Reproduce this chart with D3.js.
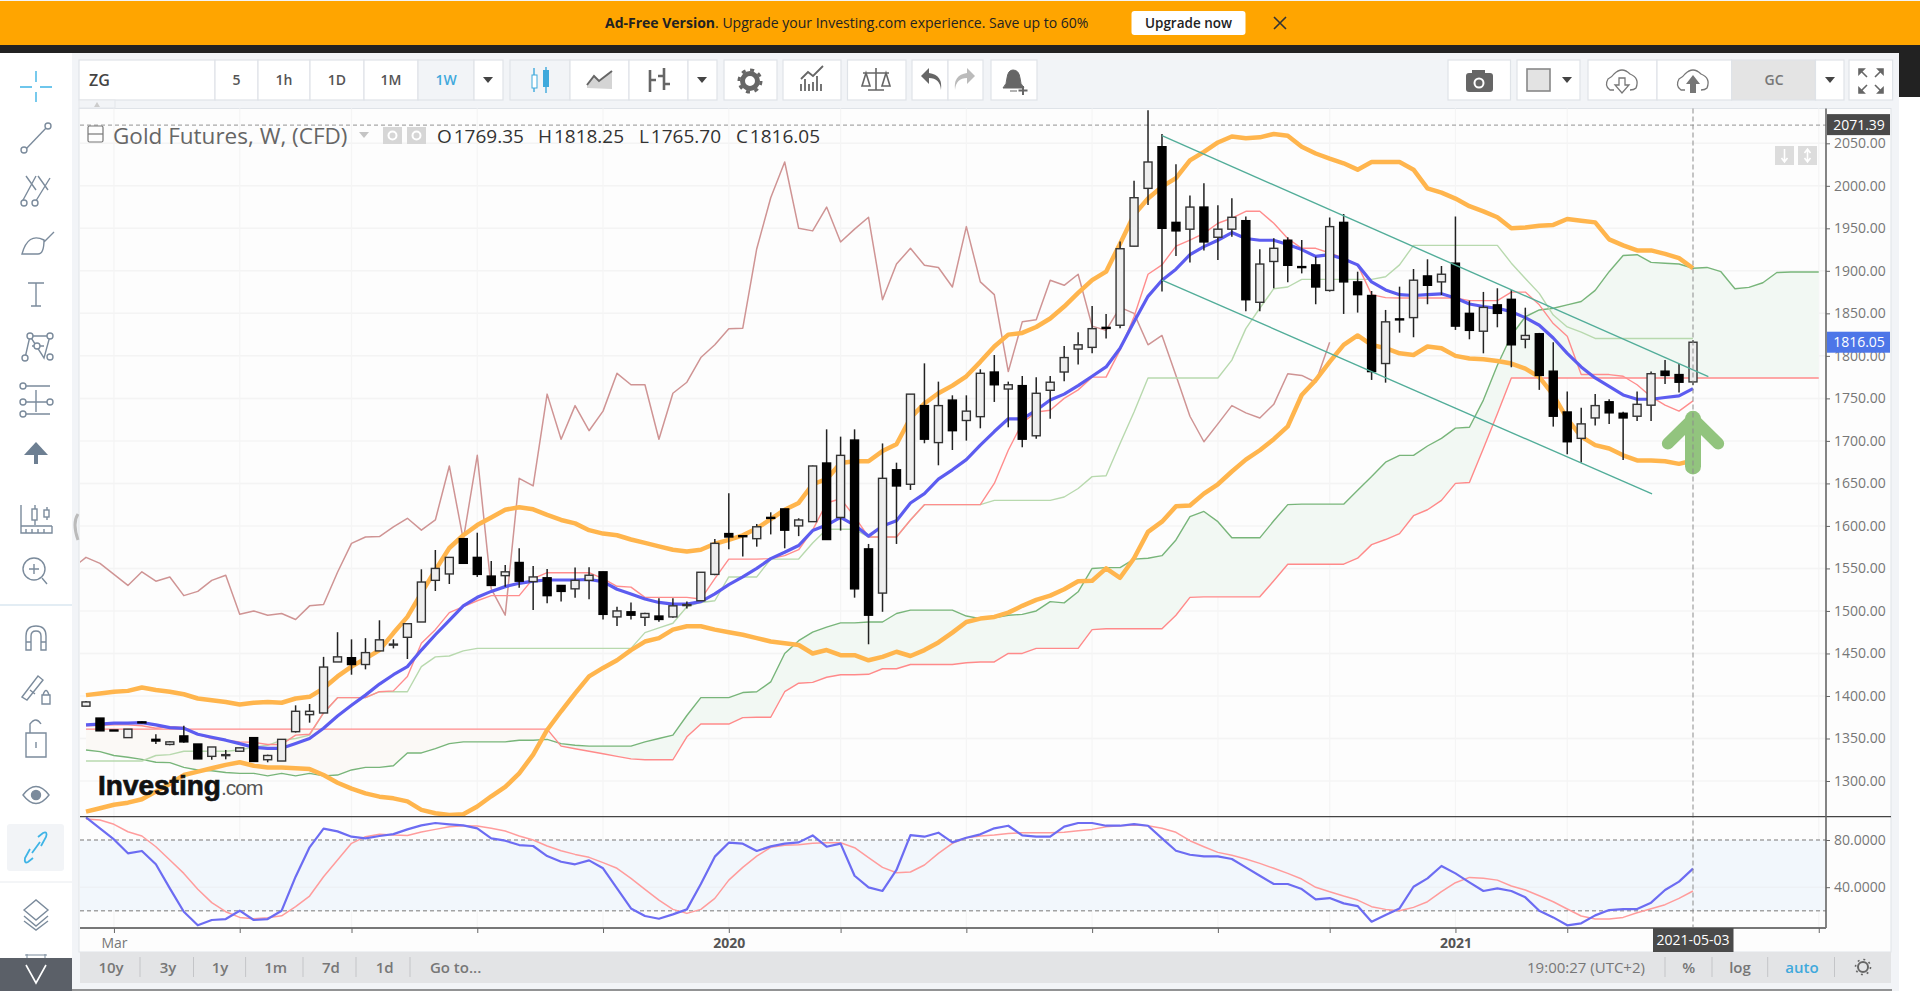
<!DOCTYPE html>
<html>
<head>
<meta charset="utf-8">
<title>Gold Futures, W, (CFD)</title>
<script src="https://cdn.jsdelivr.net/npm/d3@7"></script>
<style>
  html, body { margin: 0; padding: 0; background: #fff; overflow: hidden; }
  svg { display: block; }
  text { font-family: "Open Sans", sans-serif; }
</style>
</head>
<body>
<div id="chart"></div>
<script>
// weekly candles
const open = [1388,1374,1360,1351,1369.5,1349,1343,1353,1343.5,1329,
  1330,1335,1351,1325,1323.5,1358,1378,1380,1440,1445,
  1437,1453,1460,1469,1487,1536,1543.5,1585,1563,1541,
  1541.5,1557,1534.5,1539,1530,1526,1536,1546,1493,1499,
  1492.5,1494,1493,1507,1512,1543,1591,1588.5,1585,1610,
  1620,1600,1605,1674,1610,1701,1573,1521,1666,1649,
  1741.5,1698,1748,1724,1728.5,1781,1761,1765,1706,1759.5,
  1781,1808,1810,1833.5,1836,1929,1997,2046,1957,1949,
  1975,1939.5,1949,1959,1863,1911,1936,1905,1907,1877,
  1957,1887,1871,1791,1843.5,1845,1894,1887,1909,1850,
  1829,1860,1866.5,1819.5,1826,1782,1734,1703,1727,1746,
  1732.5,1729,1742,1782,1778,1769.35];
const high = [1394,1374,1360,1361,1370,1355,1347,1365,1343.5,1340,
  1336.5,1339,1351,1331,1349,1389,1390.6,1446,1475,1466.6,
  1468,1489,1466.6,1485.4,1549,1571.7,1563,1585,1592,1558.7,
  1554,1573.6,1553,1549.3,1530,1551,1551.3,1546,1505,1510,
  1498,1515,1515,1511,1545.5,1584.6,1638.4,1589,1602.3,1616,
  1620,1609,1671,1713.6,1705,1713.6,1578.8,1697,1674.4,1755,
  1791.2,1769.7,1753.6,1753.6,1784.2,1801,1769.7,1776.3,1774.8,1776.3,
  1811.6,1827.7,1858.7,1849.3,1934.4,2006,2089,2061,2025.3,1988.5,
  2003,1977,1985.3,1963.8,1925.3,1938.3,1939.5,1936.3,1916.7,1962.6,
  1966.9,1899,1876.3,1854,1881.4,1902.2,1913.6,1905.7,1964,1865,
  1875.2,1879.5,1877.5,1856.7,1827,1816,1758,1739.1,1755.2,1749,
  1734.4,1758,1781.5,1795.2,1790.5,1818.25];
const low = [1388,1359,1359,1351,1368,1343.5,1342,1345,1326,1325,
  1325.5,1335,1323,1322,1323.5,1357,1368.6,1380,1440,1425,
  1431.3,1453,1456,1443.5,1487,1523.5,1531.7,1556,1540,1530,
  1528.6,1527.4,1501,1509,1511,1515.6,1513.7,1490,1482.3,1490,
  1482.3,1487.4,1492,1503,1511.7,1542,1572.5,1563.9,1575.6,1590,
  1573.7,1588,1605,1584,1594.5,1515.6,1460.8,1499,1578.8,1642.3,
  1697.2,1671.3,1689.3,1700.3,1714.8,1745.8,1716,1692.5,1702.6,1726,
  1770,1789.7,1803,1820.3,1832.4,1929,1977.5,1875.6,1917.5,1909.7,
  1923.8,1912.8,1940.2,1852.4,1852.4,1879.5,1886.5,1897,1860.7,1875.6,
  1849.3,1850.9,1771.7,1768.5,1827.3,1821.9,1860.7,1871.6,1830.5,1819.5,
  1803,1833.6,1786.6,1808.9,1760,1716.8,1684.3,1674.5,1718,1719.9,
  1677.6,1723.5,1723.5,1767,1756.8,1765.7];
const close = [1393,1359,1359,1361,1368.5,1347,1346,1346,1326,1340,
  1331,1339,1323,1330,1349,1382,1382,1434,1446,1437,
  1451,1466,1461,1485,1534,1550,1563,1556,1543,1530,
  1546,1535,1540,1518,1523,1536,1542,1496,1500,1495,
  1497,1490,1506,1507.5,1545.5,1579.5,1587,1587.5,1599,1609,
  1595,1607,1670.5,1584,1683,1526,1495,1656,1647,1755,
  1702,1741.5,1712,1735,1779.5,1766,1766,1702,1756,1769,
  1798,1813,1832,1832.5,1926,1986,2028,1950,1947,1975,
  1934,1949,1963,1866,1908,1926.5,1906.5,1904,1881,1952,
  1887,1872,1781.5,1840,1842.5,1889,1883,1896,1835,1830,
  1857,1850,1813,1824,1777,1729,1699,1720,1741.5,1733,
  1727,1743,1779,1777,1769,1816.05];

// overlays
const bbUpper = [1401,1403,1405,1406,1410,1407,1405,1402,1397,1395,
  1393,1390,1392,1393,1392,1397,1399,1409,1423,1434.5,
  1444,1454,1474,1493,1521,1548,1574,1589,1601,1610,
  1619,1622,1619.5,1613,1607,1603,1595,1591,1589,1584,
  1580,1576,1572,1570,1572,1579,1583.5,1589,1597,1608,
  1619,1627,1649,1655,1674,1676,1676,1688,1696,1727,
  1744,1756,1765,1776,1793,1811,1825,1827,1834,1844,
  1858,1874,1889,1899,1932,1966,1985,1999,2009,2030,
  2040,2051,2058,2056,2057,2061,2059,2046,2038,2032,
  2026.5,2019,2028,2028,2028,2019,1997,1992,1985,1976,
  1970,1963,1950,1951,1953,1954,1961,1959,1957,1937,
  1930,1924,1924,1920,1915,1903];
const bbLower = [1264,1268,1272,1274.5,1278.5,1287.5,1296.5,1307,1311,1315,
  1319,1322,1318,1316,1316,1315,1314,1307,1298,1291,
  1285.5,1281.6,1279.6,1276,1266,1262,1260,1261,1270,1282,
  1293,1309,1331,1360,1382,1403,1423,1433,1442,1454,
  1464,1468,1478,1482,1482,1478,1475,1472,1468,1464,
  1462,1460,1450,1454,1448,1448,1442,1446,1452,1447,
  1454,1463,1474.5,1487,1491,1493,1498,1506,1513,1518,
  1525.5,1535,1535.5,1550,1539,1562,1593,1605,1623,1624,
  1638,1649,1664,1678,1689,1702,1717,1754,1771.5,1793,
  1813,1824,1813,1809,1803,1801,1811,1809,1800,1797,
  1796,1794,1791,1785,1775,1754,1726,1705,1695,1691,
  1683,1677,1677,1676,1673,1677];
const ema = [1366,1367,1368,1368,1368.6,1366,1362.7,1362,1355,1351.4,
  1348,1344,1339.6,1338.4,1338.4,1344,1350,1362,1376.5,1389,
  1401,1414,1425,1434.5,1454,1472,1489,1506,1516,1523,
  1528.6,1532.5,1535,1536.4,1536.4,1536.4,1537,1534.5,1525.5,1520,
  1514,1510,1508,1508,1511,1520,1531,1540,1550,1561.5,
  1569,1577,1594.5,1601,1610,1601,1588,1600,1606,1627,
  1638,1655,1666,1678,1695,1711,1726,1726,1736,1748,
  1755,1765,1776,1787,1809,1840,1870,1889,1902,1919,
  1928.5,1936,1945,1938,1936,1936,1931,1925,1917,1919,
  1914,1907,1887,1877.5,1872,1871,1872,1873,1868,1861,
  1858,1856,1852,1845,1836,1821,1803,1787,1774,1764,
  1754,1749,1749,1751,1753,1761.5];
const tenkan = [1365,1365.5,1366,1366,1365,1362,1364,1363,1355,1350,
  1348,1346,1345.5,1343,1343,1354,1355,1380,1398,1398,
  1398,1405,1406,1423,1462,1478,1498,1505,1512,1518,
  1518,1518,1538,1545,1545,1545,1545,1538,1529,1528,
  1516,1516,1516,1516,1514,1538,1561,1561,1561,1561.5,
  1565,1572,1595,1627,1632,1611,1587,1587,1587,1607,
  1625,1625,1625,1625,1625,1650,1689,1721,1734,1736,
  1750,1760,1775,1775,1807,1846,1896,1907,1929,1936,
  1944,1956,1962,1970,1970,1956,1938,1926.5,1926.5,1921,
  1915,1907,1872,1868.5,1868,1868,1868,1868,1868,1865,
  1865,1865,1875,1875,1860,1838,1823,1778,1778,1778,
  1776,1766,1752,1742,1735,1747];
const kijun = [1323.5,1323.5,1323.5,1323.5,1323.5,1330,1331,1335,1335,1335,
  1335,1336.5,1340,1342,1348,1350,1354,1380,1398,1398,
  1398,1405,1405,1405,1434.5,1446,1447,1453,1456,1456,
  1456,1456,1456,1456,1456,1456,1456,1456,1456,1456,
  1474.5,1480,1485.5,1505,1510,1512,1540,1540,1540,1561,
  1561,1561,1580,1596,1596,1596,1587,1587,1587,1607,
  1625,1625,1625,1625,1625,1630,1630,1630,1630,1630,
  1634,1644,1658,1659,1697,1734,1774,1774,1774,1774,
  1774,1774,1795,1832,1856,1879,1881,1890,1890,1890,
  1890,1890,1890,1893,1907,1930,1930,1930,1930,1930,
  1930,1930,1909,1891,1873.5,1848,1834,1828,1820.5,1820.5,
  1820.5,1820.5,1820.5,1820.5,1820.5,1820.5];
const senkouA = [1336.5,1334.5,1330,1328,1325.5,1322,1321.6,1316,1313,1312,
  1310,1309,1309,1306,1309,1306,1309,1306,1307,1313,
  1316,1316,1318,1333,1333,1338,1344,1346,1346,1346,
  1346,1348,1348,1349,1344,1342,1341,1341,1341,1341,
  1346,1350,1354,1377,1398,1398,1398,1404,1405,1416.5,
  1450,1465,1475,1481,1486,1486,1487,1487,1497,1501,
  1501,1501,1501,1494,1491,1492,1495,1496,1500,1511,
  1509.5,1522.5,1550,1551,1551,1561,1562,1565,1583.5,1611,
  1617,1605,1586,1586,1586,1606,1625,1625.6,1625.6,1625.6,
  1625.6,1642,1658,1675,1683,1683,1694,1703,1715,1716,
  1748,1789,1824,1846,1854,1856,1860,1864,1877,1899,
  1918,1919,1910,1909,1908,1903,1904,1899,1879,1880.5,
  1886,1898,1898.6,1898.6,1898.6];
const senkouB = [1361,1361,1361,1361,1361,1361,1361,1361,1361,1361,
  1361,1361,1361,1361,1361,1361,1361,1361,1361,1361,
  1361,1361,1361,1361,1361,1361,1361,1361,1361,1361,
  1361,1361,1361,1361,1341,1338,1335,1332,1329,1326,
  1325,1325,1325,1352,1367,1367,1367,1374.5,1375,1375,
  1405,1415,1416,1422,1425,1425,1425.5,1432,1432,1437,
  1437,1437,1437,1439,1440,1440,1450,1450,1456,1456,
  1456,1456,1478,1479,1479,1479,1479,1479,1495,1516,
  1516.6,1516.6,1516.6,1516.6,1516.6,1535.5,1555,1555,1555,1555,
  1555,1562,1578,1584,1591,1612,1619,1630,1650,1651,
  1691,1732,1774,1774,1774,1774,1774,1774,1774,1774,
  1774,1774,1774,1774,1774,1774,1774,1774,1774,1774,
  1774,1774,1774,1774,1774];

// stochastic pane
const stochK = [99.2,89.9,80.5,68.7,70.7,59.4,39,19.2,7.7,12.2,
  13,20.1,12.2,13,20.1,48.9,73.8,89.6,87.3,82.8,
  81.4,83.4,85,89,92.4,94.4,93.3,92.4,89.9,81.4,
  79.4,75.7,74.9,66.4,61.6,59.4,62.7,56,39,22,
  15.6,13.3,17,21.2,42.7,65.9,77.7,76.9,70.7,74.6,
  76.9,78,83.9,74.3,76.9,49.7,39.9,36.8,54.6,84.2,
  82.8,86.2,78,81.9,84.8,89.9,92.1,83.9,82.8,82.8,
  91.3,94.4,94.4,92.1,92.1,93.5,92.1,81.4,70.9,67.5,
  66.1,66.1,63.9,56.8,49.7,42.7,42.7,38.4,29.7,30.8,
  26.3,24,10.8,16.4,22,40.4,47.5,58,51.7,44.1,
  36.8,39,36.8,31.4,20.1,14.4,7.7,9.4,16.1,20.6,
  21.5,21.5,26.9,37.6,44.7,55.7];
const stochD = [97.8,96.9,93.3,87,83.4,74.3,63,51.7,38.2,26.9,
  19.2,14.4,13.3,14.2,15.8,23.5,32.5,48.9,63,77.2,
  82.8,84.8,84.2,83.9,86.8,89,91.3,92.1,91.8,89.9,
  87.6,83.4,80,74.9,70.9,67.8,65.3,60.8,56,47.5,
  38.2,29.1,21.2,17.8,21.2,30.5,46,56.8,66.4,73.8,
  75.5,76,77.2,77.7,77.7,73.5,65,56.8,52.3,52.9,
  58.8,68.7,77.2,81.9,83.4,84.2,85.6,86.2,86.2,86.2,
  86.5,87.9,89,91.3,92.1,92.7,92.1,89.9,86.5,79.4,
  74.3,69.5,67,63.9,60.2,56,51.7,46.9,39.9,36.2,
  32.5,29.1,23.5,21.2,20.1,22.9,27.7,36.2,43.8,48.3,
  47.5,46,41,37.6,32.8,27.7,21.5,15.6,13,13,
  14.4,18.4,21.8,25.2,30.5,36.8];

const chikouShift = 26;
const priceTicks = [1300,1350,1400,1450,1500,1550,1600,1650,1700,1750,1800,1850,1900,1950,2000,2050];
const stochTicks = [40,80];
const stochLevels = [20,80];
const monthBars = [2,11,19,28,37,46,54,63,72,81,89,98,106,124];
const monthLabels = {2:'Mar',46:'2020',98:'2021'};
// hand drawn channel and arrow: [bar, price]
const channelTop = [[77,2059],[116.1,1775.5]];
const channelBottom = [[77,1889.2],[112.07,1637.6]];
const arrowShaft = [[115,1726],[115,1670]];
const arrowHead = [[113.2,1697],[115,1726],[116.8,1697]];
const topLine = 2071.39, lastPrice = 1816.05, lastBar = 115;

const WIDTH = 1920, HEIGHT = 991;
const plotLeft = 80, plotRight = 1826, plotTop = 108.5, paneSplit = 816.7, plotBottom = 928, timeBar = 952;

const svg = d3.select('#chart').append('svg').attr('width', WIDTH).attr('height', HEIGHT);

const x = d3.scaleLinear().domain([0, 115]).range([86, 1693]);
const y = d3.scaleLinear().domain([1300, 2050]).range([781, 143.3]);
const yS = d3.scaleLinear().domain([20, 80]).range([910.8, 840]);

svg.append('defs').append('clipPath').attr('id', 'main-clip').append('rect')
  .attr('x', plotLeft).attr('y', plotTop).attr('width', plotRight - plotLeft).attr('height', paneSplit - plotTop);

function line(values, yScale, start) {
  return d3.line().x((d, i) => x(i + (start || 0))).y(d => yScale(d))(values);
}
function strokeLine(g, d, color, w) {
  return g.append('path').attr('d', d).attr('fill', 'none').attr('stroke', color)
    .attr('stroke-width', w).attr('stroke-linejoin', 'round');
}

// page background
svg.append('rect').attr('width', WIDTH).attr('height', HEIGHT).attr('fill', '#f2f4f7');
svg.append('rect').attr('x', 1899).attr('y', 97).attr('width', 21).attr('height', HEIGHT).attr('fill', '#fff');
svg.append('rect').attr('x', 0).attr('y', 53).attr('width', 72).attr('height', HEIGHT).attr('fill', '#fff');

// chart background
svg.append('rect').attr('x', plotLeft - 1).attr('y', plotTop).attr('width', 1892 - plotLeft).attr('height', timeBar - plotTop)
  .attr('fill', '#fdfdfd').attr('stroke', '#dfe3e8');

// grid
const grid = svg.append('g');
grid.selectAll('.gy').data(priceTicks).join('line')
  .attr('x1', plotLeft).attr('x2', plotRight).attr('y1', d => y(d)).attr('y2', d => y(d))
  .attr('stroke', '#f4f4f4').attr('stroke-width', 1.5);
grid.selectAll('.gx').data(monthBars).join('line')
  .attr('x1', d => x(d)).attr('x2', d => x(d)).attr('y1', plotTop).attr('y2', plotBottom)
  .attr('stroke', '#f5f5f5').attr('stroke-width', 1.2);

// stochastic band
const stochPane = svg.append('g');
stochPane.append('rect').attr('x', plotLeft).attr('width', plotRight - plotLeft)
  .attr('y', yS(80)).attr('height', yS(20) - yS(80)).attr('fill', '#f2f7fc');
stochPane.append('line').attr('x1', plotLeft).attr('x2', plotRight).attr('y1', yS(40)).attr('y2', yS(40))
  .attr('stroke', '#eef1f5').attr('stroke-width', 1.5);
stochPane.selectAll('.lvl').data(stochLevels).join('line')
  .attr('x1', plotLeft).attr('x2', plotRight).attr('y1', d => yS(d)).attr('y2', d => yS(d))
  .attr('stroke', '#a3a3a3').attr('stroke-width', 1.5).attr('stroke-dasharray', '4 3');
strokeLine(stochPane, line(stochD, yS), '#ff9c9c', 1.5);
strokeLine(stochPane, line(stochK, yS), '#6c6cf2', 2.2);

// main pane
const main = svg.append('g').attr('clip-path', 'url(#main-clip)');
const cloudIdx = d3.range(senkouA.length);
const cloud = d3.area().x(i => x(i)).y0(i => y(senkouB[i]));
main.append('path').datum(cloudIdx).attr('fill', '#fbf9f6')
  .attr('d', cloud.y1(i => y(Math.min(senkouA[i], senkouB[i]))));
main.append('path').datum(cloudIdx).attr('fill', '#f2f8f3')
  .attr('d', cloud.y1(i => y(Math.max(senkouA[i], senkouB[i]))));

main.append('line').attr('x1', plotLeft).attr('x2', plotRight).attr('y1', y(topLine)).attr('y2', y(topLine))
  .attr('stroke', '#a8a8a8').attr('stroke-width', 1.2).attr('stroke-dasharray', '4 3');

strokeLine(main, line(senkouA, y), '#78b57a', 1.4);
strokeLine(main, line(senkouB, y), '#ff8a8a', 1.4);
strokeLine(main, line(close.slice(chikouShift - 1), y, -1), '#cf9494', 1.5);
strokeLine(main, line(kijun, y), '#b8d9ae', 1.4);
strokeLine(main, line(tenkan, y), '#ff8d8d', 1.4);
strokeLine(main, line(bbUpper, y), '#ffb54d', 4.5);
strokeLine(main, line(bbLower, y), '#ffb54d', 4.5);
strokeLine(main, line(ema, y), '#5c5cf0', 3.2);

// candles
const bars = main.append('g').selectAll('g').data(d3.range(open.length)).join('g');
bars.append('line')
  .attr('x1', i => x(i)).attr('x2', i => x(i)).attr('y1', i => y(high[i])).attr('y2', i => y(low[i]))
  .attr('stroke', '#222').attr('stroke-width', 1.5);
bars.append('rect')
  .attr('x', i => x(i) - 4).attr('width', 8)
  .attr('y', i => y(Math.max(open[i], close[i])))
  .attr('height', i => Math.max(1, Math.abs(y(open[i]) - y(close[i]))))
  .attr('fill', i => close[i] >= open[i] ? '#eeeeee' : '#000')
  .attr('stroke', i => close[i] >= open[i] ? '#333' : '#000').attr('stroke-width', 1.4);

// channel
[channelTop, channelBottom].forEach(c => {
  strokeLine(main, d3.line().x(d => x(d[0])).y(d => y(d[1]))(c), '#52ad99', 1.4);
});

// arrow
[arrowShaft, arrowHead].forEach((a, k) => {
  strokeLine(main, d3.line().x(d => x(d[0])).y(d => y(d[1]))(a), '#92c47e', k ? 12 : 16)
    .attr('stroke-linecap', 'round');
});

// watermark
const mark = svg.append('text').attr('x', 98).attr('y', 795);
mark.append('tspan').text('Investing').attr('font-weight', 700)
  .attr('font-size', 28).attr('fill', '#111').attr('stroke', '#111').attr('stroke-width', 0.7).style('font-family', 'Liberation Sans');
mark.append('tspan').text('.com').attr('font-size', 21).attr('fill', '#555').attr('letter-spacing', -1)
  .style('font-family', 'Liberation Sans');

// crosshair
svg.append('line').attr('x1', x(lastBar)).attr('x2', x(lastBar)).attr('y1', plotTop).attr('y2', plotBottom)
  .attr('stroke', '#8b8b8b').attr('stroke-width', 1).attr('stroke-dasharray', '5 3');

// separators + axes
svg.append('line').attr('x1', plotLeft).attr('x2', 1891).attr('y1', paneSplit).attr('y2', paneSplit)
  .attr('stroke', '#444').attr('stroke-width', 1.3);
svg.append('line').attr('x1', plotRight).attr('x2', plotRight).attr('y1', plotTop).attr('y2', plotBottom)
  .attr('stroke', '#666').attr('stroke-width', 1.6);
svg.append('line').attr('x1', plotLeft).attr('x2', plotRight).attr('y1', plotBottom).attr('y2', plotBottom)
  .attr('stroke', '#777').attr('stroke-width', 2);

function styleAxis(g) {
  g.select('.domain').remove();
  g.selectAll('line').attr('stroke', '#666');
  g.selectAll('text').attr('fill', '#777').attr('font-size', 14).style('font-family', '"Open Sans", sans-serif');
}
svg.append('g').attr('transform', `translate(${plotRight},0)`)
  .call(d3.axisRight(y).tickValues(priceTicks).tickFormat(d3.format('.2f')).tickSize(4).tickPadding(4))
  .call(styleAxis);
svg.append('g').attr('transform', `translate(${plotRight},0)`)
  .call(d3.axisRight(yS).tickValues(stochTicks).tickFormat(d3.format('.4f')).tickSize(4).tickPadding(4))
  .call(styleAxis);
svg.append('g').attr('transform', `translate(0,${plotBottom})`)
  .call(d3.axisBottom(x).tickValues(monthBars).tickFormat(d => monthLabels[d] || '').tickSize(5).tickPadding(4))
  .call(styleAxis)
  .call(g => g.selectAll('text').attr('dy', '0.75em').attr('fill', d => d === 2 ? '#777' : '#555')
    .attr('font-weight', d => d === 2 ? 400 : 700));

// price + date tags
function tag(px, py, w, h, fill, label, cx) {
  svg.append('rect').attr('x', px).attr('y', py).attr('width', w).attr('height', h).attr('fill', fill);
  svg.append('text').attr('x', cx).attr('y', py + h / 2 + 5).attr('fill', '#fff').attr('font-size', 14)
    .attr('text-anchor', 'middle').text(label);
}
tag(1827, y(topLine) - 11, 63, 21, '#4a4a4a', d3.format('.2f')(topLine), 1859);
tag(1827, y(lastPrice) - 10.5, 63, 21, '#4d76e8', d3.format('.2f')(lastPrice), 1859);
tag(1653, plotBottom, 80.5, 24, '#4a4a4a', '2021-05-03', 1693);

// legend
const legend = svg.append('g');
legend.append('rect').attr('x', 88).attr('y', 126).attr('width', 15).attr('height', 16).attr('rx', 1.5)
  .attr('fill', 'none').attr('stroke', '#777').attr('stroke-width', 1.2);
legend.append('line').attr('x1', 88).attr('x2', 103).attr('y1', 134).attr('y2', 134).attr('stroke', '#777').attr('stroke-width', 1.2);
legend.append('text').attr('x', 113).attr('y', 144).attr('font-size', 22.5).attr('fill', '#666').text('Gold Futures, W, (CFD)');
legend.append('path').attr('d', 'M359 132 h10 l-5 6 z').attr('fill', '#c4c4c4');
[383, 407].forEach(px => {
  legend.append('rect').attr('x', px).attr('y', 127).attr('width', 19).attr('height', 17).attr('fill', '#d6d6d6');
  legend.append('circle').attr('cx', px + 9.5).attr('cy', 135.5).attr('r', 4).attr('fill', 'none').attr('stroke', '#fff').attr('stroke-width', 2);
});
const ohlcLabels = [['O', open[lastBar], 437], ['H', high[lastBar], 538], ['L', low[lastBar], 639], ['C', close[lastBar], 736]];
ohlcLabels.forEach(o => {
  legend.append('text').attr('x', o[2]).attr('y', 143).attr('font-size', 19).attr('fill', '#333').text(o[0] + '\u200a' + d3.format('.2f')(o[1]));
});

// scroll arrows at the top right of the chart
[1775, 1798].forEach((px, k) => {
  svg.append('rect').attr('x', px).attr('y', 146).attr('width', 19).attr('height', 19).attr('fill', '#dcdcdc');
  svg.append('path').attr('d', k ? `M${px + 9.5} 149 v13 M${px + 6.5} 153 l3 -4 l3 4 M${px + 6.5} 158 l3 4 l3 -4` : `M${px + 9.5} 149 v13 M${px + 6.5} 158 l3 4 l3 -4`)
    .attr('stroke', '#fff').attr('stroke-width', 1.6).attr('fill', 'none');
});

// ---- page chrome ----
svg.append('rect').attr('x', 0).attr('y', 1).attr('width', WIDTH).attr('height', 44).attr('fill', '#ffa500');
svg.append('rect').attr('x', 0).attr('y', 45).attr('width', WIDTH).attr('height', 8).attr('fill', '#222');
svg.append('rect').attr('x', 1899).attr('y', 45).attr('width', 21).attr('height', 52).attr('fill', '#222');
const ad = svg.append('text').attr('x', 605).attr('y', 28).attr('font-size', 14).attr('fill', '#222');
ad.append('tspan').text('Ad-Free Version').attr('font-weight', 700);
ad.append('tspan').text('. Upgrade your Investing.com experience. Save up to 60%');
svg.append('rect').attr('x', 1131.5).attr('y', 11).attr('width', 114).attr('height', 24).attr('rx', 3).attr('fill', '#fff');
svg.append('text').attr('x', 1188.5).attr('y', 28).attr('text-anchor', 'middle').attr('font-size', 13.5).attr('font-weight', 600).attr('fill', '#222').text('Upgrade now');
svg.append('path').attr('d', 'M1274 17 L1286 29 M1286 17 L1274 29').attr('stroke', '#333').attr('stroke-width', 1.6);

// top toolbar
const tb = svg.append('g');
function cell(x0, x1, fill) {
  tb.append('rect').attr('x', x0).attr('y', 60).attr('width', x1 - x0).attr('height', 40)
    .attr('fill', fill || '#fff').attr('stroke', '#dfe3e8').attr('stroke-width', 1.2);
}
function cap(cx, label, color, weight) {
  tb.append('text').attr('x', cx).attr('y', 85).attr('text-anchor', 'middle').attr('font-size', 14)
    .attr('font-weight', weight || 600).attr('fill', color || '#555').text(label);
}
function caret(cx) { tb.append('path').attr('d', `M${cx - 5} 77 h10 l-5 6 z`).attr('fill', '#444'); }
function icon(d, opt) {
  return tb.append('path').attr('d', d).attr('fill', (opt && opt.fill) || 'none')
    .attr('stroke', (opt && opt.stroke) || '#777').attr('stroke-width', (opt && opt.w) || 1.6);
}
cell(79, 215); tb.append('text').attr('x', 89).attr('y', 86).attr('font-size', 16).attr('font-weight', 600).attr('fill', '#444').text('ZG');
[[215, 258, '5'], [258, 310, '1h'], [310, 364, '1D'], [364, 418, '1M']].forEach(c => { cell(c[0], c[1]); cap((c[0] + c[1]) / 2, c[2]); });
cell(418, 474, '#f2f4f7'); cap(446, '1W', '#3fa9dc');
cell(474, 503); caret(488);
cell(510, 570, '#f2f4f7'); cell(570, 629); cell(629, 688); cell(688, 717); caret(702);
icon('M534 68 V92 M546 67 V93', { stroke: '#3fa9dc', w: 1.4 });
tb.append('rect').attr('x', 532).attr('y', 75).attr('width', 5).attr('height', 13).attr('fill', '#fff').attr('stroke', '#3fa9dc');
tb.append('rect').attr('x', 543).attr('y', 70).attr('width', 6).attr('height', 17).attr('fill', '#3fa9dc');
icon('M587 88 V84 L594 76 L599 81 L612 71 V89 Z', { fill: '#d4d4d4', stroke: 'none' });
icon('M587 85 L594 76 L599 81 L612 71', { stroke: '#666', w: 2 });
icon('M650 70 V92 M650 80 h6 M664 68 V90 M664 76 h-6 M664 84 h6', { stroke: '#666', w: 2.6 });
cell(724, 777); tb.append('circle').attr('cx', 750).attr('cy', 81).attr('r', 7.5).attr('fill', 'none').attr('stroke', '#666').attr('stroke-width', 5);
tb.append('circle').attr('cx', 750).attr('cy', 81).attr('r', 11).attr('fill', 'none').attr('stroke', '#666').attr('stroke-width', 3).attr('stroke-dasharray', '4 4.6');
cell(783, 841); icon('M801 91 V84 M805 91 V79 M809 91 V84 M813 91 V82 M817 91 V76 M821 91 V84 M801 79 L808 72 L813 76 L823 66', { stroke: '#666', w: 1.8 });
cell(847.5, 906); icon('M876 68 V90 M868 90 h16 M863 73 h26 M866 73 l-4 13 h8 z M886 73 l-4 13 h8 z', { stroke: '#666', w: 1.6 });
cell(912, 948); cell(948, 983);
icon('M941 90 Q940 78 929 78 V84 L921 76 L929 68 V73 Q943 75 941 90 Z', { fill: '#666', stroke: 'none' });
icon('M955 90 Q956 78 967 78 V84 L975 76 L967 68 V73 Q953 75 955 90 Z', { fill: '#bbb', stroke: 'none' });
cell(991, 1037); icon('M1003 88 Q1007 84 1007 78 Q1008 70 1013 70 Q1019 70 1020 78 Q1020 84 1024 88 Z M1010 91 h7', { fill: '#666', stroke: '#666', w: 1 });
icon('M1023 86 v9 M1018.5 90.5 h9', { stroke: '#666', w: 2 });
cell(1448, 1510.5); tb.append('rect').attr('x', 1466).attr('y', 73).attr('width', 27).attr('height', 19).attr('rx', 3).attr('fill', '#666');
tb.append('rect').attr('x', 1472).attr('y', 70).attr('width', 13).attr('height', 5).attr('fill', '#666');
tb.append('circle').attr('cx', 1479).attr('cy', 83).attr('r', 4.5).attr('fill', 'none').attr('stroke', '#fff').attr('stroke-width', 2);
cell(1517, 1580); tb.append('rect').attr('x', 1527).attr('y', 69).attr('width', 23).attr('height', 22).attr('fill', '#e3e3e3').attr('stroke', '#888').attr('stroke-width', 1.6); caret(1567);
cell(1588, 1657); cell(1657, 1731.6); cell(1731.6, 1815.5, '#e4e4e4'); cell(1815.5, 1844); caret(1830);
const cloudPath = cx => `M${cx - 8} 90 H${cx - 12} Q${cx - 18} 86 ${cx - 14} 79 Q${cx - 10} 77 ${cx - 8} 74 Q${cx} 66 ${cx + 8} 74 Q${cx + 18} 78 ${cx + 14} 88 Q${cx + 12} 90 ${cx + 8} 90`;
icon(cloudPath(1622), { stroke: '#777', w: 1.3 });
icon('M1619 78 h6 v7 h4 l-7 8 l-7 -8 h4 z', { fill: '#fff', stroke: '#777', w: 1.3 });
icon(cloudPath(1693), { stroke: '#777', w: 1.3 });
icon('M1690 93 v-9 h-4 l7 -9 l7 9 h-4 v9 z', { fill: '#777', stroke: 'none' });
cap(1774, 'GC', '#777');
cell(1849, 1892.6);
icon('M1859 69 h5 l-5 5 z M1883 69 h-5 l5 5 z M1859 93 h5 l-5 -5 z M1883 93 h-5 l5 -5 z M1862 72 l5 5 M1880 72 l-5 5 M1862 90 l5 -5 M1880 90 l-5 -5', { fill: '#666', stroke: '#666', w: 1.6 });
tb.append('rect').attr('x', 79).attr('y', 100).attr('width', 36).attr('height', 8).attr('fill', '#f2f4f7').attr('stroke', '#e3e6ea');
tb.append('path').attr('d', 'M94 107 l3 -5 l3 5 z').attr('fill', '#ccc');

// time bar
svg.append('rect').attr('x', plotLeft).attr('y', timeBar).attr('width', 1891 - plotLeft).attr('height', 31).attr('fill', '#e3e4e6');
const timeBtns = ['10y', '3y', '1y', '1m', '7d', '1d', 'Go to...'];
const timeX = [111, 168, 220, 275.6, 331, 384.6, 455.6];
const timeSep = [140, 193.5, 245.6, 303, 356, 410, 1665, 1712, 1767.7, 1834.5];
timeBtns.forEach((t, i) => {
  svg.append('text').attr('x', timeX[i]).attr('y', 973).attr('text-anchor', 'middle').attr('font-size', 15)
    .attr('font-weight', 600).attr('fill', '#777').text(t);
});
svg.selectAll('.sep').data(timeSep).join('line').attr('x1', d => d).attr('x2', d => d).attr('y1', 957).attr('y2', 977).attr('stroke', '#c4c5c8');
[['19:00:27 (UTC+2)', 1586, '#777'], ['%', 1688.7, '#777'], ['log', 1740, '#777'], ['auto', 1802, '#3fa9dc']].forEach(t => {
  svg.append('text').attr('x', t[1]).attr('y', 973).attr('text-anchor', 'middle').attr('font-size', 15).attr('font-weight', t[0] === '19:00:27 (UTC+2)' ? 400 : 600).attr('fill', t[2]).text(t[0]);
});
svg.append('circle').attr('cx', 1863).attr('cy', 967).attr('r', 5).attr('fill', 'none').attr('stroke', '#666').attr('stroke-width', 2);
svg.append('circle').attr('cx', 1863).attr('cy', 967).attr('r', 7.5).attr('fill', 'none').attr('stroke', '#666').attr('stroke-width', 1.6).attr('stroke-dasharray', '2 3.9');
svg.append('line').attr('x1', 0).attr('x2', 1892).attr('y1', 990).attr('y2', 990).attr('stroke', '#333');

// left toolbar
const lb = svg.append('g').attr('fill', 'none').attr('stroke', '#7b8b9c').attr('stroke-width', 1.4);
function left(d, c) { return lb.append('path').attr('d', d).attr('stroke', c || '#7b8b9c'); }
function knob(cx, cy) { lb.append('circle').attr('cx', cx).attr('cy', cy).attr('r', 3).attr('fill', '#fff'); }
left('M36 71 V82 M36 92 V102 M20 87 H32 M40 87 H52', '#3fb4e6');
left('M25 150 L48 126'); knob(24, 150); knob(48, 126);
left('M26 176 L36 190 M38 176 L48 190 M22 202 L36 176 M34 204 L50 178'); knob(24, 203); knob(35, 203);
left('M22 254 Q28 232 44 240 Q44 254 38 254 Z M44 242 L54 232');
left('M36 283 V306 M28 283 H44 M31 306 H41');
left('M25 358 L30 336 L44 358 L50 336 L30 336 M32 346 H44'); knob(25, 358); knob(30, 336); knob(50, 336); knob(50, 357); knob(37, 346);
left('M24 386 H50 M24 402 H50 M24 414 H50 M36 390 V412'); knob(23, 386); knob(23, 402); knob(23, 414); knob(50, 402);
left('M36 464 V448', '#6d7f92').attr('stroke-width', 4);
lb.append('path').attr('d', 'M24 455 L36 442 L48 455 Z').attr('fill', '#6d7f92').attr('stroke', 'none');
left('M21 505 V533 H52 V526 M21 526 H52 M26 533 V529 M32 533 V529 M38 533 V529 M44 533 V529');
left('M35 505 V525 M47 507 V520');
lb.append('rect').attr('x', 32).attr('y', 509).attr('width', 5).attr('height', 11).attr('fill', '#fff');
lb.append('rect').attr('x', 44).attr('y', 510).attr('width', 5).attr('height', 7).attr('fill', '#fff');
lb.append('circle').attr('cx', 34).attr('cy', 569).attr('r', 11);
left('M42 578 L47 584 M29 569 H39 M34 564 V574');
svg.append('line').attr('x1', 0).attr('x2', 72).attr('y1', 605).attr('y2', 605).attr('stroke', '#e3edf4').attr('stroke-width', 2);
left('M26 650 V636 Q26 626 36 626 Q46 626 46 636 V650 H41 V636 Q41 631 36 631 Q31 631 31 636 V650 Z M26 642 H31 M41 642 H46');
left('M22 697 L38 676 L43 680 L27 700 Z M30 690 L35 694 M42 704 V695 H50 V704 Z M43 695 Q46 686 49 695');
left('M26 757 V733 H46 V757 Z M30 733 V724 Q36 716 41 724 M36 742 V748');
lb.append('circle').attr('cx', 36).attr('cy', 795).attr('r', 4.5).attr('fill', '#7b8b9c');
left('M23 795 Q36 778 49 795 Q36 812 23 795 Z');
svg.append('rect').attr('x', 7).attr('y', 824).attr('width', 57).attr('height', 47).attr('rx', 3).attr('fill', '#f2f4f7');
svg.append('path').attr('d', 'M38 837 L43 833 Q48 831 46 837 L41 846 M33 858 L28 862 Q24 864 25 858 L30 849 M32 853 L40 842').attr('fill', 'none').attr('stroke', '#3fb4e6').attr('stroke-width', 1.8);
svg.append('line').attr('x1', 0).attr('x2', 72).attr('y1', 882).attr('y2', 882).attr('stroke', '#e8ebef');
left('M24 910 L36 900 L48 910 L36 920 Z M24 916 L36 926 L48 916 M24 921 L36 930 L48 921');
svg.append('path').attr('d', 'M27 954 V960 M45 954 V960 M25 955 H47').attr('stroke', '#7b8b9c');
svg.append('rect').attr('x', 0).attr('y', 958).attr('width', 72).attr('height', 33).attr('fill', '#5b6068');
svg.append('path').attr('d', 'M26 965 L36 983 L46 965').attr('fill', 'none').attr('stroke', '#fff').attr('stroke-width', 1.6);
svg.append('path').attr('d', 'M78 514 Q72 523 78 540').attr('fill', 'none').attr('stroke', '#bbb').attr('stroke-width', 3);
</script>
</body>
</html>
